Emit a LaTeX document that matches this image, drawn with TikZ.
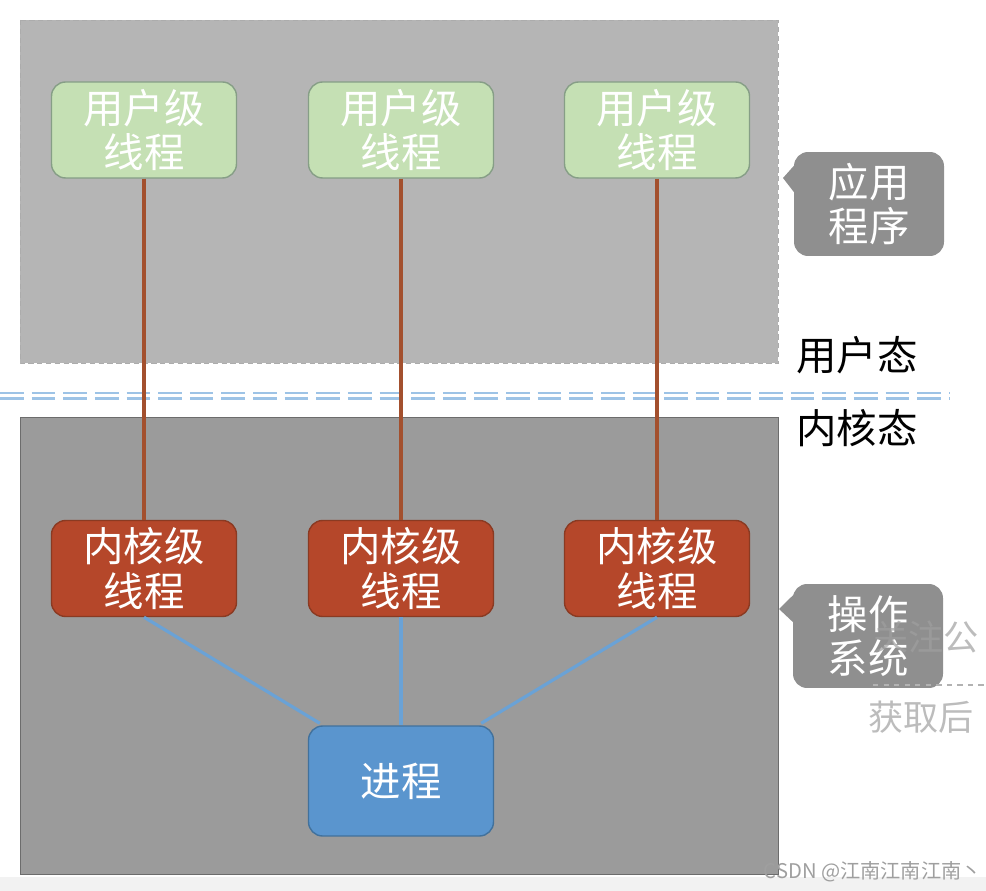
\documentclass[tikz,border=0pt]{standalone}
\usepackage{fontspec}
\setmainfont{Noto Sans CJK SC}
\usetikzlibrary{calc}
\definecolor{userbg}{HTML}{B5B5B5}
\definecolor{kernelbg}{HTML}{9B9B9B}
\definecolor{ulgreen}{HTML}{C5E0B4}
\definecolor{ulborder}{HTML}{869E86}
\definecolor{klred}{HTML}{B5472A}
\definecolor{klborder}{HTML}{8A3A22}
\definecolor{procblue}{HTML}{5A95CE}
\definecolor{procborder}{HTML}{41719C}
\definecolor{linkbrown}{HTML}{A3502E}
\definecolor{linkblue}{HTML}{6AA2D6}
\definecolor{modeblue}{HTML}{9DC3E6}
\definecolor{calloutgray}{HTML}{8F8F8F}

\begin{document}
\begin{tikzpicture}[x=0.02cm, y=-0.02cm,
  every node/.style={font=\fontsize{23}{25.5}\selectfont, align=center, text=white, inner sep=0pt},
  thread/.style={draw, line width=0.8pt, rounded corners=8pt, minimum width=3.7cm, minimum height=1.92cm},
  ulthread/.style={thread, fill=ulgreen, draw=ulborder},
  klthread/.style={thread, fill=klred, draw=klborder},
  procbox/.style={thread, fill=procblue, draw=procborder, minimum height=2.2cm},
  callout/.style={fill=calloutgray, rounded corners=8pt, minimum width=3cm, minimum height=2.08cm},
  modetext/.style={text=black},
  modeline/.style={draw=modeblue, line width=1.4pt, dash pattern=on 13.5pt off 4.5pt},
  uklink/.style={draw=linkbrown, line width=1.8pt},
  kplink/.style={draw=linkblue, line width=1.8pt},
  overlay text/.style={text=gray!75, font=\fontsize{20}{22}\selectfont, opacity=0.7}]
  \useasboundingbox (0,0) rectangle (986,891);
  % user space and kernel space
  \fill[gray!10] (0,877) rectangle (986,891);
  \filldraw[fill=userbg, draw=gray!65, line width=0.5pt, densely dashed] (20,20) rectangle (778,363);
  \filldraw[fill=kernelbg, draw=gray!85!black, line width=0.5pt] (20,417) rectangle (778,874);
  \draw[modeline] (0,393) -- (950,393);
  \draw[modeline] (0,398.5) -- (950,398.5);
  % threads
  \foreach \i/\x in {1/144,2/401,3/657} {
    \node[ulthread] (u\i) at (\x,130) {用户级\\线程};
    \node[klthread] (k\i) at (\x,568.5) {内核级\\线程};
    \draw[uklink] (u\i.south) -- (k\i.north);
  }
  \node[procbox] (proc) at (401,781) {进程};
  \draw[kplink] (k1.south) -- ($(proc.north west)+(12,-2)$);
  \draw[kplink] (k2.south) -- (proc.north);
  \draw[kplink] (k3.south) -- ($(proc.north east)+(-13,-2)$);
  % callouts
  \node[callout] (app) at (869,204) {应用\\程序};
  \coordinate (apptip) at (783,178);
  \fill[calloutgray] ($(app.north west)+(3,11)$) -- (apptip) -- ($(app.north west)+(3,44)$) -- cycle;
  \node[callout] (os) at (868,636) {操作\\系统};
  \coordinate (ostip) at (779,609);
  \fill[calloutgray] ($(os.north west)+(3,9)$) -- (ostip) -- ($(os.north west)+(3,41)$) -- cycle;
  \node[modetext, anchor=west] (umode) at (796,355) {用户态};
  \node[modetext, anchor=west] (kmode) at (796,428) {内核态};
  % video overlay and watermark
  \node[overlay text, anchor=west] (follow) at (873,637) {关注公};
  \draw[gray!60, line width=0.8pt, dashed] (873,685) -- (986,685);
  \node[overlay text, anchor=west] (fetch) at (868,717) {获取后};
  \node[anchor=east, text=gray!75, font=\fontsize{11.5}{13}\selectfont] (csdn) at (982,872) {CSDN @江南江南江南丶};
\end{tikzpicture}
\end{document}
